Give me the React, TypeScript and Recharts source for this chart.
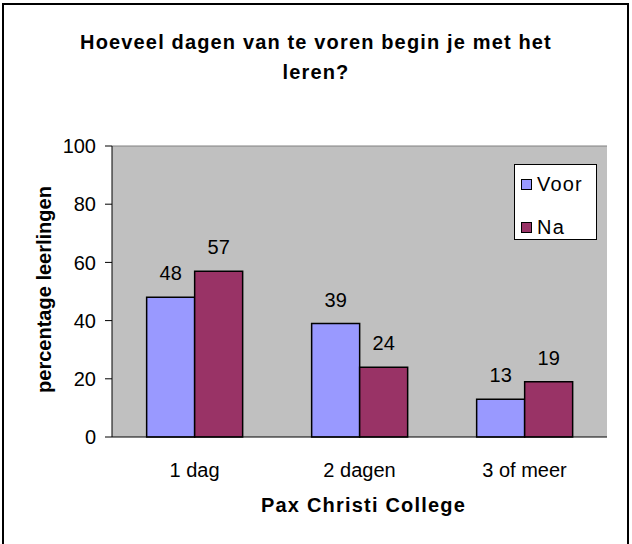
import React from 'react';
import { BarChart, Bar, XAxis, YAxis, LabelList, Legend, CartesianGrid, ReferenceLine } from 'recharts';

const titleLines = ['Hoeveel dagen van te voren begin je met het', 'leren?'];
const categories = ['1 dag', '2 dagen', '3 of meer'];
const voorValues = [48, 39, 13];
const naValues = [57, 24, 19];
const seriesNames = ['Voor', 'Na'];
const yTicks = [0, 20, 40, 60, 80, 100];
const boundaryTicks = [0, 1, 2, 3];
const xLabel = 'Pax Christi College';
const yLabel = 'percentage leerlingen';

const data = categories.map((c, i) => ({ name: c, voor: voorValues[i], na: naValues[i] }));

const FONT = '"Liberation Sans", Arial, sans-serif';
const BLUE = '#9999FF';
const PLUM = '#993366';

const LegendBox = (props: any) => {
  const payload = [...(props.payload || [])].sort(
    (a: any, b: any) => seriesNames.indexOf(a.value) - seriesNames.indexOf(b.value)
  );
  return (
    <div style={{ position: 'relative', width: '100%', height: '100%', fontFamily: FONT }}>
      {payload.map((p: any, i: number) => (
        <div
          key={i}
          style={{ position: 'absolute', left: 6, top: 8 + i * 43, height: 22, lineHeight: '22px', display: 'flex', alignItems: 'center' }}
        >
          <span
            style={{ display: 'inline-block', width: 9, height: 9, background: p.color, border: '1.5px solid #000', marginRight: 5 }}
          />
          <span style={{ fontSize: 20, color: '#000', letterSpacing: '1.2px' }}>{p.value}</span>
        </div>
      ))}
    </div>
  );
};

export default function App() {
  return (
    <div style={{ position: 'absolute', left: 0, top: 0, width: 632, height: 544, overflow: 'hidden', background: '#fff' }}>
      <div
        style={{ position: 'absolute', left: 2, top: 3, width: 627, height: 620, border: '2px solid #000', boxSizing: 'border-box' }}
      />
      <div
        style={{ position: 'absolute', left: 0, top: 27, width: 632, textAlign: 'center', fontFamily: FONT, fontWeight: 'bold', fontSize: 20, letterSpacing: '1.15px', lineHeight: '30px', color: '#000' }}
      >
        {titleLines.map((t, i) => (
          <div key={i}>{t}</div>
        ))}
      </div>
      <div style={{ position: 'absolute', left: 0, top: 0 }}>
        <BarChart
          width={632}
          height={544}
          data={data}
          margin={{ top: 146, right: 25, bottom: 0, left: 0 }}
          barGap={0}
          barCategoryGap="21%"
          style={{ fontFamily: FONT }}
        >
          <CartesianGrid fill="#C0C0C0" fillOpacity={1} horizontal={false} vertical={false} />
          <XAxis
            xAxisId="b"
            type="number"
            domain={[0, 3]}
            allowDataOverflow
            ticks={boundaryTicks}
            tick={false}
            axisLine={false}
            tickLine={{ stroke: '#000' }}
            tickSize={7}
            height={0}
          />
          <XAxis
            dataKey="name"
            height={107}
            tickLine={false}
            tickSize={6}
            tickMargin={20}
            axisLine={{ stroke: '#000' }}
            tick={{ fill: '#000', fontSize: 20, fontFamily: FONT }}
            label={{ value: xLabel, position: 'insideTop', offset: 61, dx: 4, fill: '#000', fontSize: 20, fontWeight: 'bold', fontFamily: FONT, letterSpacing: '1.2px' }}
          />
          <YAxis
            domain={[0, 100]}
            ticks={yTicks}
            width={112}
            tickSize={7}
            tickMargin={9}
            axisLine={{ stroke: '#000' }}
            tickLine={{ stroke: '#000' }}
            tick={{ fill: '#000', fontSize: 20, fontFamily: FONT }}
            label={{ value: yLabel, angle: -90, position: 'center', dx: -12, dy: -2, fill: '#000', fontSize: 20, fontWeight: 'bold', fontFamily: FONT }}
          />
          <ReferenceLine y={100} stroke="#808080" strokeWidth={1} />
          <ReferenceLine x={3} xAxisId="b" stroke="#808080" strokeWidth={1} />
          <Legend
            layout="vertical"
            align="center"
            verticalAlign="middle"
            content={<LegendBox />}
            wrapperStyle={{ left: 514, top: 164, width: 83, height: 76, border: '1px solid #000', background: '#fff', boxSizing: 'border-box' }}
          />
          <Bar dataKey="voor" name={seriesNames[0]} fill={BLUE} stroke="#000" strokeWidth={1.5} isAnimationActive={false}>
            <LabelList dataKey="voor" position="top" offset={17} fill="#000" fontSize={20} fontFamily={FONT} />
          </Bar>
          <Bar dataKey="na" name={seriesNames[1]} fill={PLUM} stroke="#000" strokeWidth={1.5} isAnimationActive={false}>
            <LabelList dataKey="na" position="top" offset={17} fill="#000" fontSize={20} fontFamily={FONT} />
          </Bar>
        </BarChart>
      </div>
    </div>
  );
}
